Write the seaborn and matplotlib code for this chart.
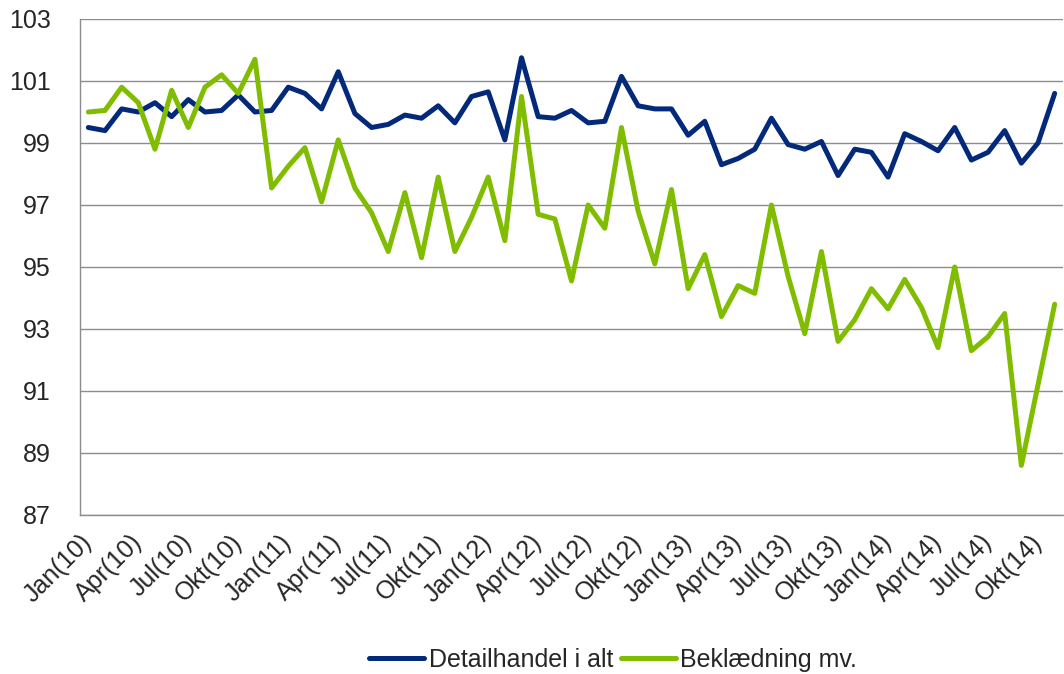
import numpy as np
import pandas as pd
import matplotlib
matplotlib.use("Agg")
import matplotlib.pyplot as plt
from matplotlib.lines import Line2D
import seaborn as sns

# monthly index, Jan 2010 - Nov 2014
detailhandel = [99.5, 99.4, 100.1, 100.0, 100.3, 99.85, 100.4, 100.0, 100.05, 100.55,
                100.0, 100.05, 100.8, 100.6, 100.1, 101.3, 99.95, 99.5, 99.6, 99.9,
                99.8, 100.2, 99.65, 100.5, 100.65, 99.1, 101.75, 99.85, 99.8, 100.05,
                99.65, 99.7, 101.15, 100.2, 100.1, 100.1, 99.25, 99.7, 98.3, 98.5,
                98.8, 99.8, 98.95, 98.8, 99.05, 97.95, 98.8, 98.7, 97.9, 99.3,
                99.05, 98.75, 99.5, 98.45, 98.7, 99.4, 98.35, 99.0, 100.6]
beklaedning = [100.0, 100.05, 100.8, 100.3, 98.8, 100.7, 99.5, 100.8, 101.2, 100.6,
               101.7, 97.55, 98.25, 98.85, 97.1, 99.1, 97.55, 96.75, 95.5, 97.4,
               95.3, 97.9, 95.5, 96.6, 97.9, 95.85, 100.5, 96.7, 96.55, 94.55,
               97.0, 96.25, 99.5, 96.8, 95.1, 97.5, 94.3, 95.4, 93.4, 94.4,
               94.15, 97.0, 94.7, 92.85, 95.5, 92.6, 93.3, 94.3, 93.65, 94.6,
               93.7, 92.4, 95.0, 92.3, 92.75, 93.5, 88.6, 91.2, 93.8]
tick_labels = ["Jan(10)", "Apr(10)", "Jul(10)", "Okt(10)",
               "Jan(11)", "Apr(11)", "Jul(11)", "Okt(11)",
               "Jan(12)", "Apr(12)", "Jul(12)", "Okt(12)",
               "Jan(13)", "Apr(13)", "Jul(13)", "Okt(13)",
               "Jan(14)", "Apr(14)", "Jul(14)", "Okt(14)"]
series_names = ["Detailhandel i alt", "Beklædning mv."]
colors = {"Detailhandel i alt": "#03297a", "Beklædning mv.": "#80bd00"}

n = len(detailhandel)
df = pd.DataFrame({
    "pos": list(range(n)) * 2,
    "value": detailhandel + beklaedning,
    "serie": [series_names[0]] * n + [series_names[1]] * n,
})

sns.set_style("white")
plt.rcParams["font.family"] = ["Liberation Sans", "DejaVu Sans"]
grey = "#8c8c8c"
fs = 18

fig = plt.figure(figsize=(10.64, 6.74), dpi=100)
ax = fig.add_axes([80 / 1064, 1 - 515 / 674, 983 / 1064, 496 / 674])

sns.lineplot(data=df, x="pos", y="value", hue="serie", palette=colors,
             linewidth=3.6, sort=False, legend=False, ax=ax)
for line in ax.lines:
    line.set_solid_joinstyle("round")
    line.set_solid_capstyle("round")

ax.set_xlim(-0.5, n - 0.5)
ax.set_ylim(87, 103)
ax.set_yticks(range(87, 104, 2))
ax.yaxis.grid(True, color=grey, linewidth=1.0)
ax.set_axisbelow(True)
ax.set_xlabel("")
ax.set_ylabel("")

for s in ["top", "right"]:
    ax.spines[s].set_visible(False)
for s in ["left", "bottom"]:
    ax.spines[s].set_color(grey)
    ax.spines[s].set_linewidth(1.0)

ax.set_xticks(np.arange(0, n, 3))
ax.set_xticklabels(tick_labels, rotation=45, ha="right", va="center",
                   rotation_mode="anchor", fontsize=fs)
ax.set_xticks(np.arange(-0.5, n, 1), minor=True)
ax.tick_params(axis="x", which="major", length=0, pad=17)
ax.tick_params(axis="x", which="minor", length=6, color=grey, width=1.0, direction="out")
ax.tick_params(axis="y", length=6, color=grey, width=1.0, direction="out",
               labelsize=fs, pad=15)

handles = [Line2D([], [], color=colors[s], linewidth=3.6, solid_capstyle="round")
           for s in series_names]
fig.legend(handles, series_names, loc="center", bbox_to_anchor=(613 / 1064, 1 - 660 / 674),
           ncol=2, frameon=False, fontsize=fs, handlelength=2.2,
           handletextpad=0.2, columnspacing=0.3)

fig.savefig("out.png", dpi=100)
